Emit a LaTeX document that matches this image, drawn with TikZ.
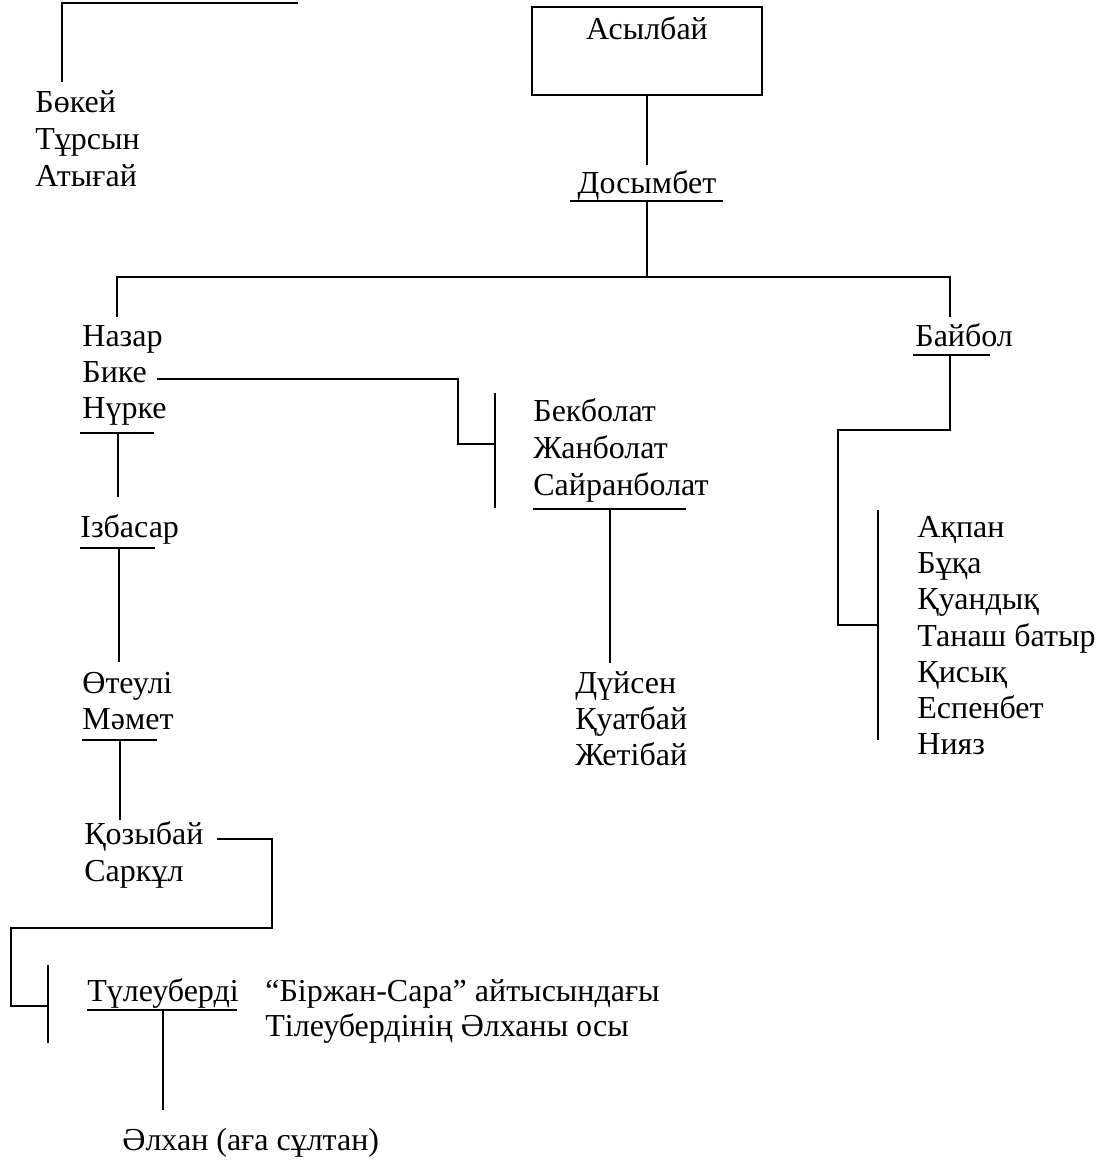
\documentclass[tikz,border=0pt]{standalone}
\usepackage{fontspec}
\setmainfont{Liberation Serif}
\begin{document}
\begin{tikzpicture}[x=0.5pt,y=-0.5pt,
  lbl/.style={anchor=base west, inner sep=0pt, font=\fontsize{16}{19}\selectfont},
  clbl/.style={lbl, anchor=base},
  conn/.style={draw, line width=0.9pt},
  uline/.style={draw, line width=0.9pt}]
\useasboundingbox (0,0) rectangle (1108,1163);

% ---- top left fragment
\coordinate (tlR) at (298,3);
\coordinate (tlL) at (62,3);
\coordinate (tlB) at (62,82);
\node[lbl] (bokei) at (35,112) {Бөкей};
\node[lbl] (tursyn) at (35,149) {Тұрсын};
\node[lbl] (atygai) at (35,186) {Атығай};
\draw[conn] (tlR) -- (tlL) -- (tlB);

% ---- root
\node[draw, line width=0.9pt, anchor=north, minimum width=115pt, minimum height=39pt,
      inner xsep=0pt, inner ysep=5pt, text height=11.5pt, text depth=22.5pt,
      font=\fontsize{16}{19}\selectfont] (asyl) at (647,6) {Асылбай};
\node[clbl] (dos) at (647,193) {Досымбет};
\coordinate (dosTop) at (647,165);
\coordinate (dosUL) at (570,201);
\coordinate (dosUR) at (723,201);
\coordinate (dosU) at (647,201);
\draw[conn] (asyl.south) -- (dosTop);
\draw[uline] (dosUL) -- (dosUR);

% ---- main branch bar
\coordinate (barM) at (647,277);
\coordinate (barL) at (117,277);
\coordinate (barR) at (950,277);
\coordinate (barLd) at (117,317);
\coordinate (barRd) at (950,317);
\draw[conn] (dosU) -- (barM);
\draw[conn] (barLd) -- (barL) -- (barR) -- (barRd);

% ---- left family
\node[lbl] (nazar) at (82,346) {Назар};
\node[lbl] (bike) at (82,382) {Бике};
\node[lbl] (nurke) at (82,418) {Нүрке};
\coordinate (nurUL) at (80,433);
\coordinate (nurUR) at (154,433);
\coordinate (nurU) at (118,433);
\draw[uline] (nurUL) -- (nurUR);

% Bike's sons
\coordinate (bk1) at (157,379);
\coordinate (bk2) at (458,379);
\coordinate (bk3) at (458,444);
\coordinate (bk4) at (495,444);
\coordinate (bkT) at (495,393);
\coordinate (bkB) at (495,508);
\draw[conn] (bk1) -- (bk2) -- (bk3) -- (bk4);
\draw[conn] (bkT) -- (bkB);
\node[lbl] (bekb) at (533,421) {Бекболат};
\node[lbl] (zhanb) at (533,458) {Жанболат};
\node[lbl] (sairb) at (533,495) {Сайранболат};
\coordinate (saiUL) at (533,509);
\coordinate (saiUR) at (686,509);
\coordinate (saiU) at (610,509);
\coordinate (saiD) at (610,663);
\draw[uline] (saiUL) -- (saiUR);
\draw[conn] (saiU) -- (saiD);
\node[lbl] (duisen) at (575,693) {Дүйсен};
\node[lbl] (kuatb) at (575,729) {Қуатбай};
\node[lbl] (zhetib) at (575,765) {Жетібай};

% Izbasar line
\coordinate (izT) at (118,497);
\draw[conn] (nurU) -- (izT);
\node[lbl] (izb) at (80,537) {Ізбасар};
\coordinate (izUL) at (80,548);
\coordinate (izUR) at (155,548);
\coordinate (izU) at (119,548);
\coordinate (izD) at (119,662);
\draw[uline] (izUL) -- (izUR);
\draw[conn] (izU) -- (izD);
\node[lbl] (oteuli) at (82,693) {Өтеулі};
\node[lbl] (mamet) at (82,729) {Мәмет};
\coordinate (maUL) at (82,740);
\coordinate (maUR) at (157,740);
\coordinate (maU) at (120,740);
\coordinate (maD) at (120,820);
\draw[uline] (maUL) -- (maUR);
\draw[conn] (maU) -- (maD);
\node[lbl] (kozyb) at (84,844) {Қозыбай};
\node[lbl] (sarkul) at (84,881) {Саркұл};

\coordinate (kz1) at (217,839);
\coordinate (kz2) at (272,839);
\coordinate (kz3) at (272,928);
\coordinate (kz4) at (11,928);
\coordinate (kz5) at (11,1006);
\coordinate (kz6) at (48,1006);
\coordinate (kzT) at (48,965);
\coordinate (kzB) at (48,1043);
\draw[conn] (kz1) -- (kz2) -- (kz3) -- (kz4) -- (kz5) -- (kz6);
\draw[conn] (kzT) -- (kzB);
\node[lbl] (tuleu) at (87,1001) {Түлеуберді};
\coordinate (tuUL) at (87,1010);
\coordinate (tuUR) at (237,1010);
\coordinate (tuU) at (163,1010);
\coordinate (tuD) at (163,1110);
\draw[uline] (tuUL) -- (tuUR);
\draw[conn] (tuU) -- (tuD);
\node[lbl] (note1) at (265,1001) {“Біржан-Сара” айтысындағы};
\node[lbl] (note2) at (265,1036) {Тілеубердінің Әлханы осы};
\node[lbl] (alkhan) at (122,1150) {Әлхан (аға сұлтан)};

% ---- right family
\node[lbl] (baibol) at (915,346) {Байбол};
\coordinate (baUL) at (913,355);
\coordinate (baUR) at (990,355);
\coordinate (baU) at (950,355);
\coordinate (ba2) at (950,430);
\coordinate (ba3) at (838,430);
\coordinate (ba4) at (838,625);
\coordinate (ba5) at (878,625);
\coordinate (baT) at (878,510);
\coordinate (baB) at (878,740);
\draw[uline] (baUL) -- (baUR);
\draw[conn] (baU) -- (ba2) -- (ba3) -- (ba4) -- (ba5);
\draw[conn] (baT) -- (baB);
\node[lbl] (akpan) at (917,537) {Ақпан};
\node[lbl] (buka) at (917,573) {Бұқа};
\node[lbl] (kuand) at (917,609) {Қуандық};
\node[lbl] (tanash) at (917,646) {Танаш батыр};
\node[lbl] (kisyk) at (917,682) {Қисық};
\node[lbl] (espen) at (917,718) {Еспенбет};
\node[lbl] (niyaz) at (917,754) {Нияз};
\end{tikzpicture}
\end{document}
